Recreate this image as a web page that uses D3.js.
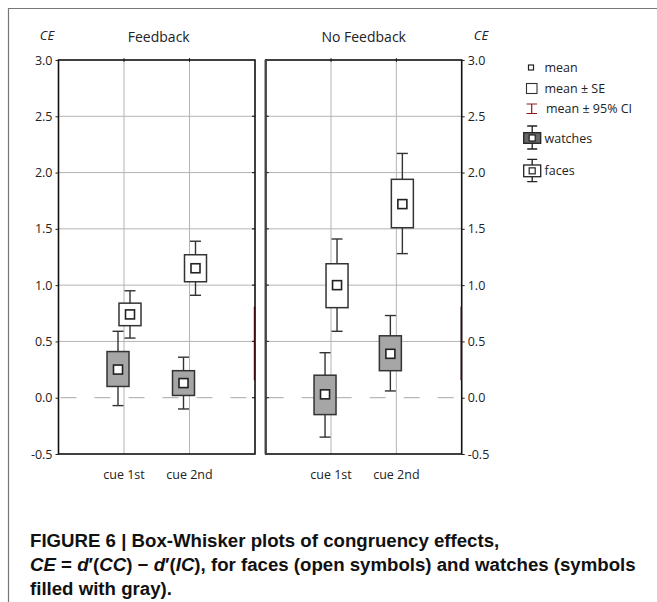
<!DOCTYPE html>
<html>
<head>
<meta charset="utf-8">
<script src="https://cdn.jsdelivr.net/npm/d3@7"></script>
<style>
body { margin: 0; background: #fff; }
svg { display: block; }
text { fill: #222; }
</style>
</head>
<body>
<script>
// chart data
var cues = ["cue 1st", "cue 2nd"];
var panels = ["Feedback", "No Feedback"];
var yTicks = [-0.5, 0.0, 0.5, 1.0, 1.5, 2.0, 2.5, 3.0];
var legendLabels = ["mean", "mean \u00b1 SE", "mean \u00b1 95% CI", "watches", "faces"];

// [ci low, se low, mean, se high, ci high] per cue
var watchesFeedback   = [[-0.07, 0.10, 0.25, 0.41, 0.59], [-0.10, 0.02, 0.13, 0.24, 0.36]];
var facesFeedback     = [[0.53, 0.64, 0.74, 0.84, 0.95], [0.91, 1.03, 1.15, 1.27, 1.39]];
var watchesNoFeedback = [[-0.35, -0.15, 0.03, 0.20, 0.40], [0.06, 0.24, 0.39, 0.55, 0.73]];
var facesNoFeedback   = [[0.59, 0.80, 1.00, 1.19, 1.41], [1.28, 1.51, 1.72, 1.94, 2.17]];

var W = 657, H = 602;
var FONT = "'Open Sans', sans-serif";
var svg = d3.select("body").append("svg")
	.attr("width", W)
	.attr("height", H);

// outer frame (only top and left visible)
svg.append("path")
	.attr("d", "M8.5," + H + "V8.5H" + W)
	.attr("fill", "none")
	.attr("stroke", "#777")
	.attr("stroke-width", 1.2);

var y = d3.scaleLinear().domain([-0.5, 3]).range([454, 60]);

var panelRanges = [[58.5, 255], [265.7, 461.7]];
var panelData = [
	{ watches: watchesFeedback, faces: facesFeedback },
	{ watches: watchesNoFeedback, faces: facesNoFeedback }
];

var boxW = 22, capW = 11, meanS = 9, offset = 6;

panels.forEach(function(name, p) {
	var r = panelRanges[p];
	var x = d3.scalePoint().domain(cues).range(r).padding(1);
	var g = svg.append("g");

	// horizontal grid
	g.selectAll("line.hgrid")
		.data(yTicks.filter(function(d) { return d > 0 && d < 3; }))
		.enter().append("line")
		.attr("class", "hgrid")
		.attr("x1", r[0]).attr("x2", r[1])
		.attr("y1", function(d) { return y(d); })
		.attr("y2", function(d) { return y(d); })
		.attr("stroke", "#b4b4b4")
		.attr("stroke-width", 1);

	// vertical grid
	g.selectAll("line.vgrid")
		.data(cues)
		.enter().append("line")
		.attr("class", "vgrid")
		.attr("x1", function(d) { return x(d); })
		.attr("x2", function(d) { return x(d); })
		.attr("y1", y(3)).attr("y2", y(-0.5))
		.attr("stroke", "#b4b4b4")
		.attr("stroke-width", 1);

	// zero line
	g.append("line")
		.attr("x1", r[0] + 2).attr("x2", r[1])
		.attr("y1", y(0)).attr("y2", y(0))
		.attr("stroke", "#a8a8a8")
		.attr("stroke-width", 1)
		.attr("stroke-dasharray", "16,18");

	// category ticks on top
	g.selectAll("line.ttick")
		.data(cues)
		.enter().append("line")
		.attr("class", "ttick")
		.attr("x1", function(d) { return x(d); })
		.attr("x2", function(d) { return x(d); })
		.attr("y1", y(3) - 2).attr("y2", y(3) + 2)
		.attr("stroke", "#333");

	// inner edge ticks
	var innerX = p === 0 ? r[1] : r[0];
	var dir = p === 0 ? -1 : 1;
	g.selectAll("line.itick")
		.data(yTicks.filter(function(d) { return d > -0.5 && d < 3; }))
		.enter().append("line")
		.attr("class", "itick")
		.attr("x1", innerX).attr("x2", innerX + dir * 3)
		.attr("y1", function(d) { return y(d); })
		.attr("y2", function(d) { return y(d); })
		.attr("stroke", "#222")
		.attr("stroke-width", 1.2);

	// panel border
	g.append("rect")
		.attr("x", r[0]).attr("y", y(3))
		.attr("width", r[1] - r[0]).attr("height", y(-0.5) - y(3))
		.attr("fill", "none")
		.attr("stroke", "#111")
		.attr("stroke-width", 1.6);
	if (p === 1) {
		g.append("line")
			.attr("x1", r[0]).attr("x2", r[0])
			.attr("y1", y(3)).attr("y2", y(-0.5))
			.attr("stroke", "#444")
			.attr("stroke-width", 2.2);
	}

	// faint dark red segment on the right edge
	g.append("line")
		.attr("x1", r[1] - 0.5).attr("x2", r[1] - 0.5)
		.attr("y1", y(0.81)).attr("y2", y(0.155))
		.attr("stroke", "#3a0c10")
		.attr("stroke-width", 1.4);

	// outer axis
	var axis = p === 0 ? d3.axisLeft(y) : d3.axisRight(y);
	axis.tickValues(yTicks).tickSize(3).tickPadding(3)
		.tickFormat(function(d) { return d.toFixed(1); });
	var ax = svg.append("g")
		.attr("transform", "translate(" + (p === 0 ? r[0] : r[1]) + ",0)")
		.call(axis);
	ax.select(".domain").remove();
	ax.selectAll(".tick line").attr("stroke", "#222");
	ax.selectAll(".tick text")
		.style("font-family", FONT)
		.style("font-size", "12.5px")
		.attr("fill", "#222");

	// titles
	svg.append("text")
		.attr("x", (r[0] + r[1]) / 2 + (p === 0 ? 2 : 0))
		.attr("y", 42)
		.attr("text-anchor", "middle")
		.style("font-family", FONT)
		.style("font-size", "14px")
		.text(name);
	svg.append("text")
		.attr("x", p === 0 ? 47 : 481)
		.attr("y", 40)
		.attr("text-anchor", "middle")
		.style("font-family", FONT)
		.style("font-size", "13px")
		.style("font-style", "italic")
		.text("CE");

	// x labels
	g.selectAll("text.cue")
		.data(cues)
		.enter().append("text")
		.attr("class", "cue")
		.attr("x", function(d) { return x(d); })
		.attr("y", 479)
		.attr("text-anchor", "middle")
		.style("font-family", FONT)
		.style("font-size", "12.5px")
		.text(function(d) { return d; });

	// boxes
	[["watches", -offset, "#a6a6a6"], ["faces", offset, "#fff"]].forEach(function(s) {
		var vals = panelData[p][s[0]];
		var bg = g.selectAll("g." + s[0])
			.data(vals)
			.enter().append("g")
			.attr("class", s[0])
			.attr("transform", function(d, i) { return "translate(" + (x(cues[i]) + s[1]) + ",0)"; });
		bg.append("line")
			.attr("x1", 0).attr("x2", 0)
			.attr("y1", function(d) { return y(d[0]); })
			.attr("y2", function(d) { return y(d[4]); })
			.attr("stroke", "#333").attr("stroke-width", 1.4);
		bg.append("line")
			.attr("x1", -capW / 2).attr("x2", capW / 2)
			.attr("y1", function(d) { return y(d[0]); })
			.attr("y2", function(d) { return y(d[0]); })
			.attr("stroke", "#333").attr("stroke-width", 1.4);
		bg.append("line")
			.attr("x1", -capW / 2).attr("x2", capW / 2)
			.attr("y1", function(d) { return y(d[4]); })
			.attr("y2", function(d) { return y(d[4]); })
			.attr("stroke", "#333").attr("stroke-width", 1.4);
		bg.append("rect")
			.attr("x", -boxW / 2).attr("width", boxW)
			.attr("y", function(d) { return y(d[3]); })
			.attr("height", function(d) { return y(d[1]) - y(d[3]); })
			.attr("fill", s[2])
			.attr("stroke", "#333").attr("stroke-width", 1.5);
		bg.append("rect")
			.attr("x", -meanS / 2).attr("width", meanS)
			.attr("y", function(d) { return y(d[2]) - meanS / 2; })
			.attr("height", meanS)
			.attr("fill", "#fff")
			.attr("stroke", "#222").attr("stroke-width", 1.6);
	});
});

// legend
var lg = svg.append("g");
var lgY = [71.5, 92.5, 112.5, 142.5, 175];
lg.selectAll("text")
	.data(legendLabels)
	.enter().append("text")
	.attr("x", function(d, i) { return i === 2 ? 546 : 544.5; })
	.attr("y", function(d, i) { return lgY[i]; })
	.style("font-family", FONT)
	.style("font-size", "12.5px")
	.text(function(d) { return d; });

lg.append("rect").attr("x", 528.5).attr("y", 65).attr("width", 5).attr("height", 5)
	.attr("fill", "#fff").attr("stroke", "#222").attr("stroke-width", 1.2);
lg.append("rect").attr("x", 526.5).attr("y", 83.5).attr("width", 10.5).attr("height", 10)
	.attr("fill", "#fff").attr("stroke", "#333").attr("stroke-width", 1.1);
lg.append("path").attr("d", "M526.5,104H537M531.7,104V113.5M526.5,113.5H537")
	.attr("fill", "none").attr("stroke", "#8b1c1c").attr("stroke-width", 1.2);

[[126, 149, 132.7, 143.3, "#666"], [159.3, 181.7, 165, 176.7, "#fff"]].forEach(function(it) {
	var cx = 532.2;
	lg.append("path")
		.attr("d", "M" + (cx - 5) + "," + it[0] + "H" + (cx + 5) + "M" + cx + "," + it[0] + "V" + it[1] +
			"M" + (cx - 5) + "," + it[1] + "H" + (cx + 5))
		.attr("fill", "none").attr("stroke", "#222").attr("stroke-width", 1.3);
	lg.append("rect").attr("x", cx - 8.5).attr("y", it[2]).attr("width", 17).attr("height", it[3] - it[2])
		.attr("fill", it[4]).attr("stroke", "#222").attr("stroke-width", 1.3);
	lg.append("rect").attr("x", cx - 3).attr("y", (it[2] + it[3]) / 2 - 3).attr("width", 6).attr("height", 6)
		.attr("fill", "#fff").attr("stroke", "#222").attr("stroke-width", 1.2);
});

// caption
var CAPFONT = "'Liberation Sans Narrow', 'Liberation Sans', Arial, sans-serif";
var cap = svg.append("g");
var capLines = [
	[["FIGURE 6 | Box-Whisker plots of congruency effects,", false]],
	[["CE", true], [" = ", false], ["d", true], ["\u2032(", false], ["CC", true], [") \u2212 ", false],
	 ["d", true], ["\u2032(", false], ["IC", true], ["), for faces (open symbols) and watches (symbols", false]],
	[["filled with gray).", false]]
];
var capY = [547, 571, 595];
var capTexts = capLines.map(function(parts, i) {
	var t = cap.append("text").attr("x", 30).attr("y", capY[i])
		.style("font-family", CAPFONT)
		.style("font-weight", "bold")
		.style("font-size", "16px")
		.style("fill", "#111");
	parts.forEach(function(pt) {
		t.append("tspan").style("font-style", pt[1] ? "italic" : "normal").text(pt[0]);
	});
	return t;
});
var w2 = capTexts[1].node().getComputedTextLength();
var fs = 16 * 606 / w2;
capTexts.forEach(function(t) { t.style("font-size", fs + "px"); });
</script>
</body>
</html>
